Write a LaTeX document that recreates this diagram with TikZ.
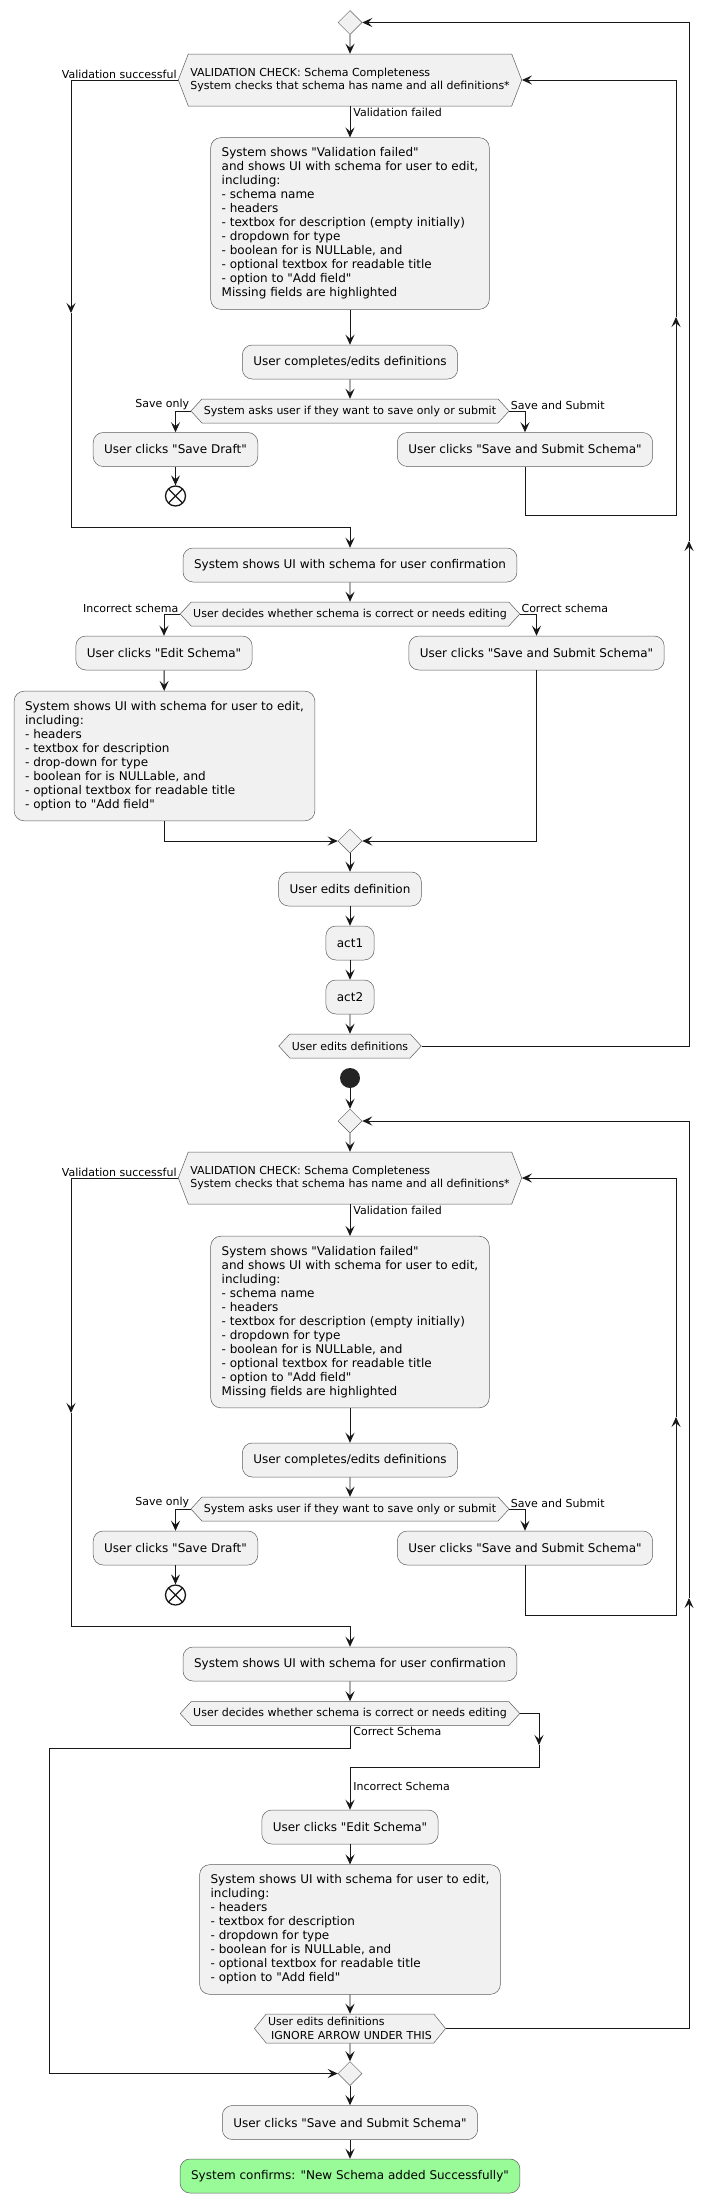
\documentclass[tikz,border=0pt]{standalone}
\usepackage{fontspec}
\setmainfont{DejaVu Sans}[Ligatures=TeXOff]
\usepackage{tikz}
\usetikzlibrary{arrows.meta}
\usetikzlibrary{shapes.geometric}
\usetikzlibrary{shapes.symbols}
\definecolor{boxfill}{HTML}{F1F1F1}
\definecolor{boxline}{HTML}{181818}
\definecolor{okfill}{HTML}{99FB98}

\tikzset{
  act/.style={draw=boxline!70, fill=boxfill, line width=0.5pt, rounded corners=10pt,
    minimum height=34pt, inner xsep=11pt, inner ysep=10pt, align=left,
    font=\fontsize{12}{14}\selectfont},
  cond/.style={signal, signal to=west and east, signal pointer angle=95,
    draw=boxline!70, fill=boxfill, line width=0.5pt, minimum height=24pt,
    inner xsep=2pt, inner ysep=3pt, align=left, font=\fontsize{11}{13.3}\selectfont},
  merge/.style={diamond, draw=boxline!70, fill=boxfill, line width=0.5pt,
    minimum width=24pt, minimum height=24pt, inner sep=0pt},
  stopnode/.style={circle, draw=boxline, line width=1.3pt, minimum size=20pt, inner sep=0pt,
    path picture={\draw[line width=1.3pt] (path picture bounding box.north west) -- (path picture bounding box.south east)
      (path picture bounding box.north east) -- (path picture bounding box.south west);}},
  startnode/.style={circle, fill=boxline!95, minimum size=20pt, inner sep=0pt},
  lbl/.style={font=\fontsize{11}{13}\selectfont, inner sep=1pt},
  flow/.style={draw=boxline, line width=0.9pt},
  arr/.style={flow, -{Stealth[length=10pt,width=9pt,inset=4pt]}},
}

\begin{document}
\begin{tikzpicture}[x=1pt,y=-1pt]
    \fill[white] (0,0) rectangle (715,2203);
    \useasboundingbox (0,0) rectangle (715,2203);

    \node[merge] (d1) at (350,22.5) {};
    \node[cond, signal pointer angle=138, minimum height=52pt] (c1) at (350,80) {VALIDATION CHECK: Schema Completeness\\System checks that schema has name and all definitions*};
    \node[act] (v1) at (350,223.5) {System shows "Validation failed"\\and shows UI with schema for user to edit,\\including:\\- schema name\\- headers\\- textbox for description (empty initially)\\- dropdown for type\\- boolean for is NULLable, and\\- optional textbox for readable title\\- option to "Add field"\\Missing fields are highlighted};
    \node[act] (e1) at (350,362) {User completes/edits definitions};
    \node[cond] (c2) at (350,411) {System asks user if they want to save only or submit};
    \node[act] (s1) at (175.5,449.5) {User clicks "Save Draft"};
    \node[stopnode] (k1) at (175.5,496) {};
    \node[act] (u1) at (525,449.5) {User clicks "Save and Submit Schema"};
    \node[act] (f1) at (350,565) {System shows UI with schema for user confirmation};
    \node[cond] (c3) at (350,614) {User decides whether schema is correct or needs editing};
    \node[act] (x1) at (164,653) {User clicks "Edit Schema"};
    \node[act] (u2) at (536.5,653) {User clicks "Save and Submit Schema"};
    \node[act] (b1) at (164.5,756) {System shows UI with schema for user to edit,\\including:\\- headers\\- textbox for description\\- drop-down for type\\- boolean for is NULLable, and\\- optional textbox for readable title\\- option to "Add field"};
    \node[merge] (m1) at (350,841) {};
    \node[act] (g1) at (350,889) {User edits definition};
    \node[act] (a1) at (350,943) {act1};
    \node[act] (a2) at (350,997) {act2};
    \node[cond] (r1) at (350,1046) {User edits definitions};

    \coordinate (w1) at (71,313);
    \coordinate (p1) at (676,317);
    \coordinate (q1) at (689,541);

    \draw[arr] (d1) -- (c1);
    \draw[arr] (c1.west) -| node[lbl, pos=0, anchor=south east] (l1) {Validation successful} (w1);
    \draw[arr] (w1) |- ([yshift=20pt]f1.north) -- (f1.north);
    \draw[arr] (c1.south) -- node[lbl, pos=0, anchor=north west, xshift=2pt] (l2) {Validation failed} (v1.north);
    \draw[arr] (v1) -- (e1);
    \draw[arr] (e1) -- (c2);
    \draw[arr] (c2.west) -| node[lbl, pos=0, anchor=south east] (l3) {Save only} (s1.north);
    \draw[arr] (c2.east) -| node[lbl, pos=0, anchor=south west] (l4) {Save and Submit} (u1.north);
    \draw[arr] (s1) -- (k1);
    \draw[arr] (u1.south) -- ++(0,49) -| (p1);
    \draw[arr] (p1) |- (c1.east);
    \draw[arr] (f1) -- (c3);
    \draw[arr] (c3.west) -| node[lbl, pos=0, anchor=south east] (l5) {Incorrect schema} (x1.north);
    \draw[arr] (c3.east) -| node[lbl, pos=0, anchor=south west] (l6) {Correct schema} (u2.north);
    \draw[arr] (x1) -- (b1);
    \draw[arr] (b1.south) |- (m1.west);
    \draw[arr] (u2.south) |- (m1.east);
    \draw[arr] (m1) -- (g1);
    \draw[arr] (g1) -- (a1);
    \draw[arr] (a1) -- (a2);
    \draw[arr] (a2) -- (r1);
    \draw[arr] (r1.east) -| (q1);
    \draw[arr] (q1) |- (d1.east);

    \node[startnode] (st) at (350,1078) {};
    \node[merge] (d2) at (350,1121) {};
    \node[cond, signal pointer angle=138, minimum height=52pt] (c4) at (350,1178) {VALIDATION CHECK: Schema Completeness\\System checks that schema has name and all definitions*};
    \node[act] (v2) at (350,1322) {System shows "Validation failed"\\and shows UI with schema for user to edit,\\including:\\- schema name\\- headers\\- textbox for description (empty initially)\\- dropdown for type\\- boolean for is NULLable, and\\- optional textbox for readable title\\- option to "Add field"\\Missing fields are highlighted};
    \node[act] (e2) at (350,1460) {User completes/edits definitions};
    \node[cond] (c5) at (350,1509) {System asks user if they want to save only or submit};
    \node[act] (s2) at (175.5,1548) {User clicks "Save Draft"};
    \node[stopnode] (k2) at (175.5,1595) {};
    \node[act] (u3) at (525,1548) {User clicks "Save and Submit Schema"};
    \node[act] (f2) at (350,1664) {System shows UI with schema for user confirmation};
    \node[cond] (c6) at (350,1713.5) {User decides whether schema is correct or needs editing};
    \node[act] (x2) at (350,1827) {User clicks "Edit Schema"};
    \node[act] (b2) at (350,1929.5) {System shows UI with schema for user to edit,\\including:\\- headers\\- textbox for description\\- dropdown for type\\- boolean for is NULLable, and\\- optional textbox for readable title\\- option to "Add field"};
    \node[cond, signal pointer angle=102, inner ysep=1pt, minimum height=29pt] (r2) at (350,2028.5) {User edits definitions\\\hspace*{3pt}IGNORE ARROW UNDER THIS};
    \node[merge] (m2) at (350,2073.5) {};
    \node[act] (u4) at (350,2122.5) {User clicks "Save and Submit Schema"};
    \node[act, fill=okfill] (ok) at (350,2176) {System confirms: "New Schema added Successfully"};

    \coordinate (w2) at (71,1413);
    \coordinate (p2) at (676,1417);
    \coordinate (q2) at (689,1598);
    \coordinate (t2) at (539,1745);

    \draw[arr] (st) -- (d2);
    \draw[arr] (d2) -- (c4);
    \draw[arr] (c4.west) -| node[lbl, pos=0, anchor=south east] (l7) {Validation successful} (w2);
    \draw[arr] (w2) |- ([yshift=20pt]f2.north) -- (f2.north);
    \draw[arr] (c4.south) -- node[lbl, pos=0, anchor=north west, xshift=2pt] (l8) {Validation failed} (v2.north);
    \draw[arr] (v2) -- (e2);
    \draw[arr] (e2) -- (c5);
    \draw[arr] (c5.west) -| node[lbl, pos=0, anchor=south east] (l9) {Save only} (s2.north);
    \draw[arr] (c5.east) -| node[lbl, pos=0, anchor=south west] (l10) {Save and Submit} (u3.north);
    \draw[arr] (s2) -- (k2);
    \draw[arr] (u3.south) -- ++(0,50) -| (p2);
    \draw[arr] (p2) |- (c4.east);
    \draw[arr] (f2) -- (c6);
    \draw[arr] (c6.east) -| (t2);
    \draw[arr] (t2) |- ([yshift=42pt]x2.north) -- node[lbl, pos=0.45, anchor=west, xshift=2pt] (l11) {Incorrect Schema} (x2.north);
    \draw[arr] (c6.south) -- node[lbl, pos=0, anchor=north west, xshift=2pt] (l12) {Correct Schema} ++(0,23) -| (49,2073.5) -- (m2.west);
    \draw[arr] (x2) -- (b2);
    \draw[arr] (b2) -- (r2);
    \draw[arr] (r2) -- (m2);
    \draw[arr] (r2.east) -| (q2);
    \draw[arr] (q2) |- (d2.east);
    \draw[arr] (m2) -- (u4);
    \draw[arr] (u4) -- (ok);
  \end{tikzpicture}
\end{document}
